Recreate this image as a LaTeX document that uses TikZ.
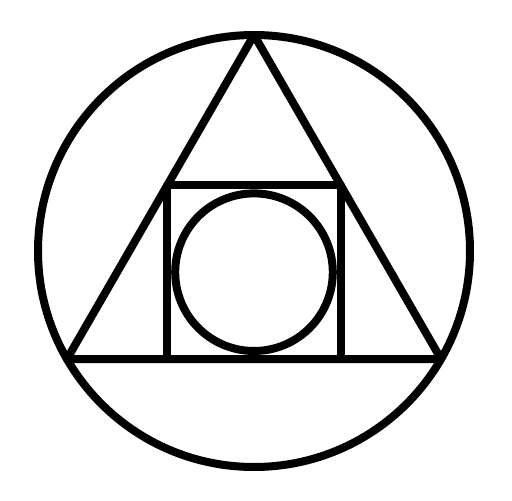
\documentclass[tikz,border=0pt]{standalone}
\begin{document}
\begin{tikzpicture}[x=1pt, y=-1pt, line width=8pt, line join=round]
        \useasboundingbox (0,0) rectangle (512,501);
        \draw (254,251) circle [radius=216pt];
        \draw (254,35)--(441,359)--(67,359)--cycle;
        \draw (167.2,359)--(167.2,185.4)--(340.8,185.4)--(340.8,359);
        \draw (254,272.2) circle [radius=78.8pt];
    \end{tikzpicture}
\end{document}
